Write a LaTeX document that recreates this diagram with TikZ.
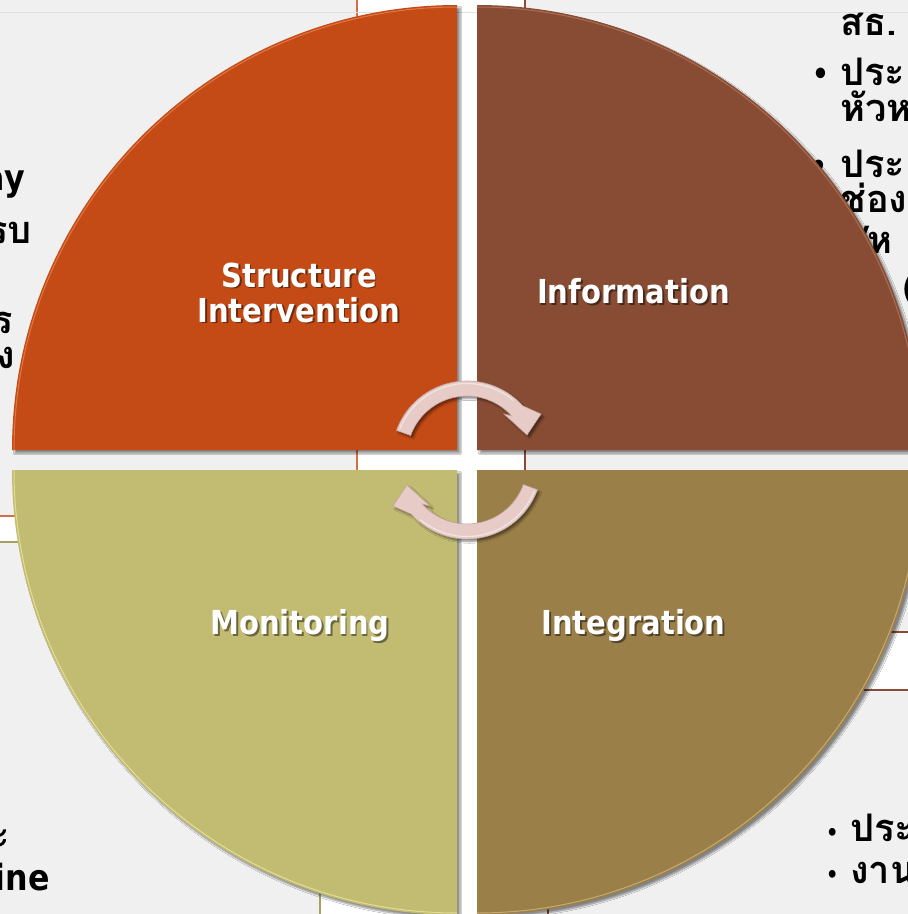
\documentclass[tikz,border=0pt]{standalone}
\usepackage{fontspec}
\usetikzlibrary{shadows.blur}
\newfontfamily\labelfont[FakeStretch=0.88]{DejaVu Sans}
\newfontfamily\thaifont[Script=Thai]{Loma}

\definecolor{structcol}{RGB}{197,75,22}
\definecolor{infocol}{RGB}{135,76,51}
\definecolor{monicol}{RGB}{194,187,114}
\definecolor{integcol}{RGB}{155,127,73}
\definecolor{structedge}{RGB}{222,120,70}
\definecolor{infoedge}{RGB}{170,110,85}
\definecolor{moniedge}{RGB}{225,220,150}
\definecolor{integedge}{RGB}{200,170,110}
\definecolor{boxgray}{RGB}{240,240,240}
\definecolor{arrowpink}{RGB}{230,203,198}
\definecolor{arrowlight}{RGB}{244,228,225}
\definecolor{arrowedge}{RGB}{196,165,160}

% quadrant of the cycle: corner x, corner y, start angle, fill, edge
\newcommand{\quadrant}[6][]{%
\fill[#5,blur shadow={shadow xshift=3pt,shadow yshift=-3pt,shadow blur steps=6,shadow opacity=45},#1] (#2,#3) -- ++(#4:445) arc[start angle=#4,end angle=#4+90,radius=445] -- cycle;
\draw[#6,line width=1pt] (#2,#3) ++(#4:443) arc[start angle=#4,end angle=#4+90,radius=443];
}
% curved arrow round a centre: x, y, rotation
\newcommand{\cyclearrow}[3]{%
\begin{scope}[shift={(#1,#2)},yscale=-1,rotate=#3]
\fill[arrowpink,draw=arrowedge,line width=0.6pt,blur shadow={shadow xshift=2.5pt,shadow yshift=-2.5pt,shadow blur steps=5,shadow opacity=45}]
  (160:75) arc[start angle=160,end angle=42,radius=75]
  -- (74,42) -- (60,21) -- (37,42)
  -- (42:60) arc[start angle=42,end angle=160,radius=60] -- cycle;
\draw[arrowlight,line width=1.2pt] (158:72.5) arc[start angle=158,end angle=50,radius=72.5];
\end{scope}
}
% white label with a dark shadow
\newcommand{\quadlabel}[4]{%
\node[labeltext,black,opacity=0.45] (#1s) at (#2+1.8,#3+1.8) {#4};
\node[labeltext] (#1) at (#2,#3) {#4};
}

\begin{document}
\begin{tikzpicture}[x=1pt,y=-1pt]
\tikzstyle{labeltext}=[white,inner sep=0pt,align=center,font=\labelfont\bfseries\fontsize{33}{35}\selectfont]
\tikzstyle{bgtext}=[inner sep=0pt,anchor=base west,font=\thaifont\bfseries\fontsize{38}{40}\selectfont]
\tikzstyle{bgend}=[bgtext,anchor=base east]
\tikzstyle{bgdot}=[inner sep=0pt,anchor=base west,font=\labelfont\bfseries\fontsize{30}{30}\selectfont]

\useasboundingbox (0,0) rectangle (908,914);
\clip (0,0) rectangle (908,914);
\fill[white] (0,0) rectangle (908,914);

% boxes behind
\fill[boxgray] (-10,-10) rectangle (357,516);
\draw[structcol!80,line width=1.5pt] (357,-10) -- (357,516) -- (-10,516);
\fill[boxgray] (525,-10) rectangle (918,632);
\draw[infocol,line width=1.5pt] (525,-10) -- (525,632) -- (918,632);
\fill[boxgray] (-10,542) rectangle (320,924);
\draw[monicol!85!black,line width=1.2pt] (-10,542) -- (320,542) -- (320,924);
\fill[boxgray] (548,690) rectangle (918,924);
\draw[infocol,line width=1.2pt] (548,924) -- (548,690) -- (918,690);
\draw[black!12,line width=0.8pt] (0,12) -- (908,12);

% text left
\node[bgend,font=\labelfont\bfseries\fontsize{36}{38}\selectfont] (tay) at (25,190) {ay};
\node[bgend] (trb) at (32,243) {รบ};
\node[bgend] (tr) at (13,333) {ร};
\node[bgend] (tng) at (15,368) {ง};
\node[bgend] (ta) at (10,848) {ะ};
\node[bgend,font=\labelfont\bfseries\fontsize{36}{38}\selectfont] (tine) at (50,890) {ine};

% text right
\node[bgtext] (tsth) at (840,35) {สธ.};
\node[bgdot] (d1) at (812,84) {•};
\node[bgtext] (tpra1) at (840,85) {ประ};
\node[bgtext] (thua) at (840,121) {หัวห};
\node[bgdot] (d2) at (810,176) {•};
\node[bgtext] (tpra2) at (840,177) {ประ};
\node[bgtext] (tchong) at (840,212) {ช่อง};
\node[bgtext] (tslash) at (856,253) {/ห};
\node[bgtext,font=\thaifont\bfseries\fontsize{34}{36}\selectfont] (tparen) at (903,298) {(};
\node[bgdot,font=\labelfont\bfseries\fontsize{22}{22}\selectfont] (d3) at (826,840) {•};
\node[bgtext] (tpra3) at (850,841) {ประ};
\node[bgdot,font=\labelfont\bfseries\fontsize{22}{22}\selectfont] (d4) at (826,882) {•};
\node[bgtext] (tngan) at (850,883) {งาน};

% the four quadrants
\quadrant{457}{450}{180}{structcol}{structedge}
\quadrant{477}{450}{270}{infocol}{infoedge}
\quadrant{477}{470}{0}{integcol}{integedge}
\quadrant{457}{470}{90}{monicol}{moniedge}

% arrows
\cyclearrow{467}{456}{0}
\cyclearrow{467}{464}{180}

% labels
\quadlabel{struct}{299}{292.5}{Structure\\Intervention}
\quadlabel{info}{633.5}{291.5}{Information}
\quadlabel{moni}{300}{626}{Monitoring}
\quadlabel{integ}{633.5}{626}{Integration}
\end{tikzpicture}
\end{document}
